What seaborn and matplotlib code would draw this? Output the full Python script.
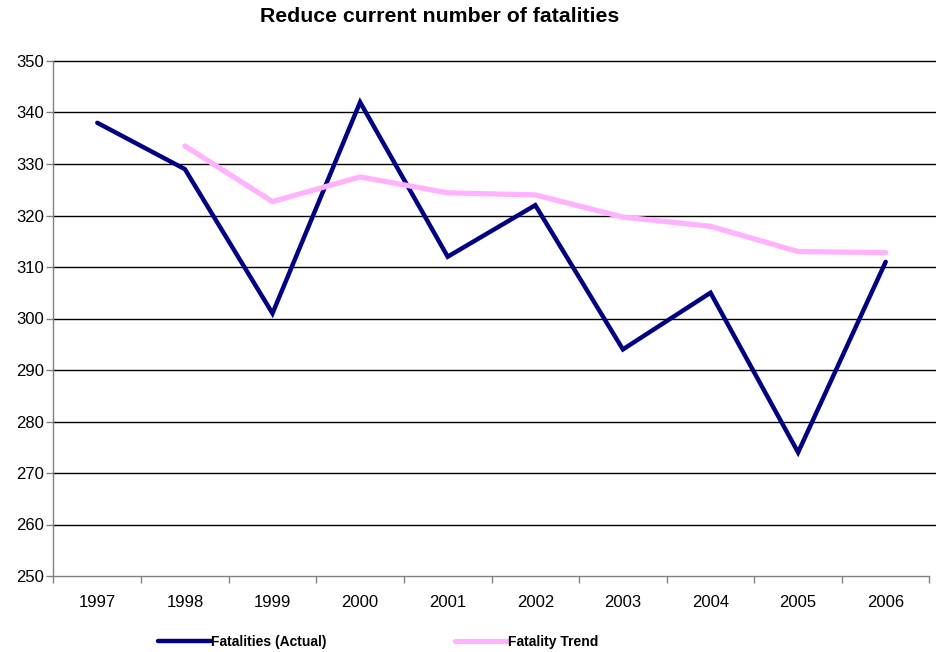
import numpy as np
import pandas as pd
import matplotlib
matplotlib.use("Agg")
import matplotlib.pyplot as plt
import seaborn as sns
from matplotlib.ticker import FixedLocator

sns.set_theme(style="white")
plt.rcParams["font.family"] = ["Liberation Sans", "DejaVu Sans"]
plt.rcParams["text.color"] = "black"
plt.rcParams["xtick.color"] = "black"
plt.rcParams["ytick.color"] = "black"

years = ["1997", "1998", "1999", "2000", "2001", "2002", "2003", "2004", "2005", "2006"]
actual = [338, 329, 301, 342, 312, 322, 294, 305, 274, 311]
trend_years = ["1998", "1999", "2000", "2001", "2002", "2003", "2004", "2005", "2006"]
trend = [333.5, 322.7, 327.5, 324.4, 324.0, 319.7, 317.9, 313.0, 312.8]

title = "Reduce current number of fatalities"
navy = "#000080"
pink = "#FFB3FF"

df_actual = pd.DataFrame({"year": years, "value": actual})
df_actual["pos"] = np.arange(len(years))
df_trend = pd.DataFrame({"year": trend_years, "value": trend})
df_trend["pos"] = [years.index(y) for y in trend_years]

fig = plt.figure(figsize=(9.37, 6.52), dpi=100)
ax = fig.add_axes([53.5 / 937, 1 - 576 / 652, 876 / 937, 515 / 652])

sns.lineplot(data=df_actual, x="pos", y="value", ax=ax, color=navy, lw=3.2,
             label="Fatalities (Actual)", solid_joinstyle="miter")
sns.lineplot(data=df_trend, x="pos", y="value", ax=ax, color=pink, lw=3.8,
             label="Fatality Trend")

ax.set_xlim(-0.5, len(years) - 0.5)
ax.set_ylim(250, 350)
ax.set_yticks(np.arange(250, 351, 10))
ax.set_xticks(np.arange(len(years)))
ax.set_xticklabels(years)
ax.xaxis.set_minor_locator(FixedLocator(np.arange(-0.5, len(years), 1.0)))
ax.tick_params(axis="x", which="major", length=0, labelsize=12, pad=14)
ax.tick_params(axis="x", which="minor", length=5, width=1, color="#808080", direction="out", bottom=True)
ax.tick_params(axis="y", length=5, width=1, color="#808080", direction="out", left=True, labelsize=12, pad=2)
ax.set_xlabel("")
ax.set_ylabel("")

# gridlines run a bit past the plot area like the original
for v in np.arange(260, 351, 10):
    ax.axhline(v, xmin=0, xmax=1.008, color="black", lw=1, zorder=0, clip_on=False)
for s in ["top", "right"]:
    ax.spines[s].set_visible(False)
for s in ["left", "bottom"]:
    ax.spines[s].set_color("#808080")
    ax.spines[s].set_linewidth(1)

leg = ax.legend(loc="upper left", bbox_to_anchor=(0.105, -0.09), ncol=2, frameon=False,
                prop={"weight": "bold", "size": 10}, handlelength=3.8, handletextpad=0.05,
                columnspacing=9.2)

fig.text(440 / 937, 1 - 17 / 652, title, ha="center", va="center", fontsize=15.3, fontweight="bold")

fig.savefig("out.png", dpi=100, facecolor="white")
